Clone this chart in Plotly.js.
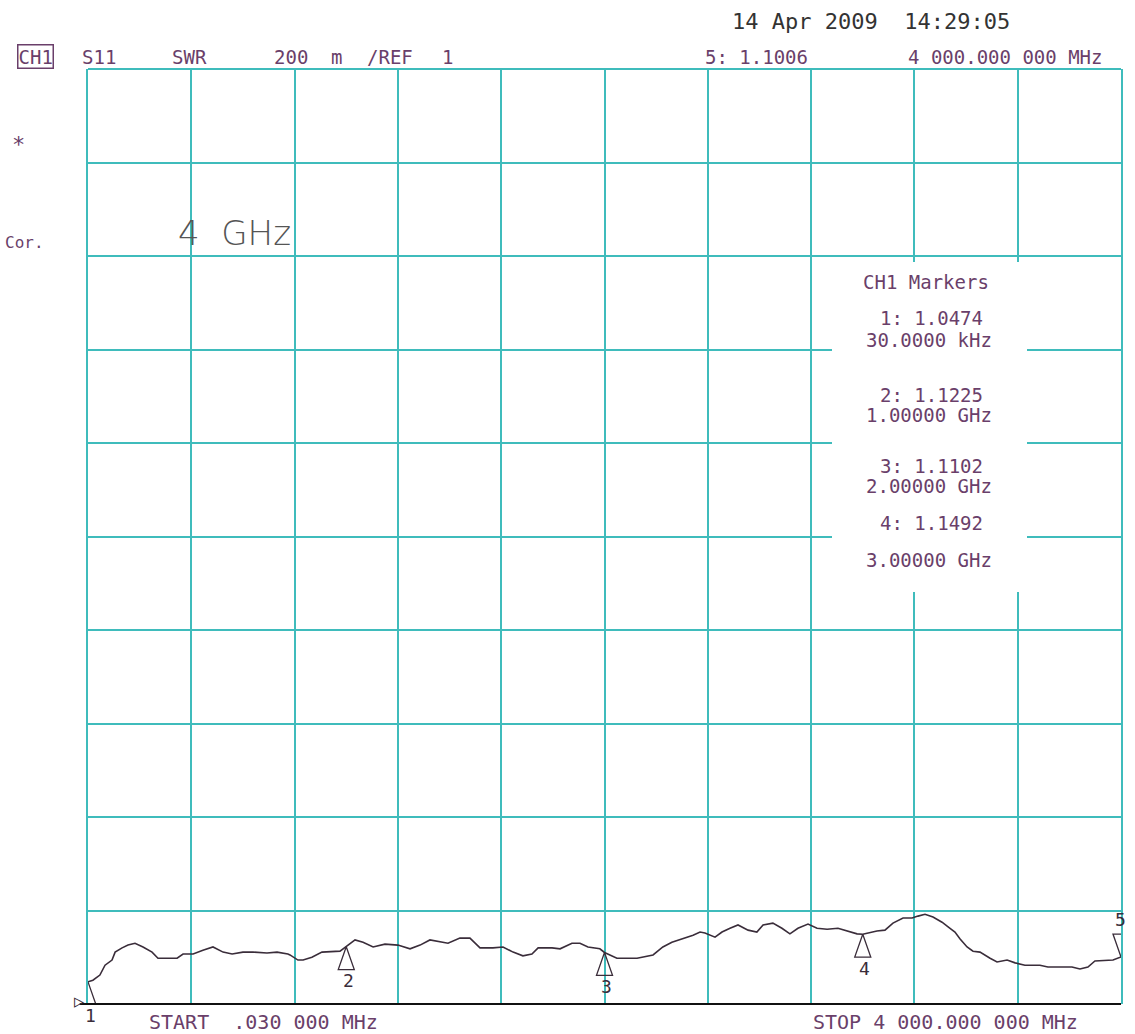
<!DOCTYPE html>
<html>
<head>
<meta charset="utf-8">
<script src="https://cdn.plot.ly/plotly-3.0.1.min.js"></script>
<style>
  html, body { margin: 0; padding: 0; background: #ffffff; }
  #chart { width: 1135px; height: 1034px; }
</style>
</head>
<body>
<div id="chart"></div>
<script>
// ---- data ----
const freqGHz = [0.00003, 0.019, 0.046, 0.066, 0.093, 0.105, 0.132, 0.155, 0.182, 0.213,
  0.248, 0.271, 0.306, 0.345, 0.368, 0.407, 0.445, 0.484, 0.523, 0.558,
  0.600, 0.639, 0.693, 0.732, 0.774, 0.782, 0.813, 0.833, 0.867, 0.906,
  0.976, 1.000, 1.034, 1.065, 1.104, 1.150, 1.200, 1.247, 1.286, 1.324,
  1.394, 1.440, 1.479, 1.518, 1.568, 1.607, 1.646, 1.684, 1.719, 1.743,
  1.797, 1.828, 1.874, 1.905, 1.936, 1.982, 2.000, 2.048, 2.126, 2.188,
  2.226, 2.261, 2.304, 2.343, 2.370, 2.389, 2.428, 2.455, 2.486, 2.517,
  2.556, 2.590, 2.614, 2.652, 2.687, 2.718, 2.749, 2.788, 2.823, 2.862,
  2.904, 2.943, 2.978, 3.000, 3.055, 3.086, 3.117, 3.156, 3.191, 3.214,
  3.241, 3.272, 3.307, 3.338, 3.357, 3.377, 3.404, 3.427, 3.454, 3.493,
  3.520, 3.559, 3.590, 3.628, 3.686, 3.717, 3.810, 3.841, 3.872, 3.899,
  3.969, 4.000];
const swr = [1.0474, 1.051, 1.062, 1.083, 1.094, 1.111, 1.120, 1.126, 1.130, 1.122,
  1.111, 1.098, 1.098, 1.098, 1.107, 1.107, 1.115, 1.122, 1.111, 1.107,
  1.111, 1.111, 1.109, 1.111, 1.107, 1.105, 1.094, 1.094, 1.100, 1.111,
  1.113, 1.1225, 1.137, 1.132, 1.122, 1.128, 1.126, 1.118, 1.126, 1.137,
  1.130, 1.141, 1.141, 1.120, 1.120, 1.122, 1.111, 1.103, 1.107, 1.120,
  1.120, 1.118, 1.130, 1.130, 1.122, 1.118, 1.1102, 1.098, 1.098, 1.105,
  1.122, 1.132, 1.139, 1.147, 1.154, 1.152, 1.143, 1.154, 1.162, 1.169,
  1.158, 1.154, 1.169, 1.173, 1.162, 1.150, 1.162, 1.171, 1.162, 1.160,
  1.162, 1.156, 1.150, 1.1492, 1.156, 1.158, 1.173, 1.184, 1.184, 1.188,
  1.192, 1.186, 1.175, 1.162, 1.154, 1.139, 1.122, 1.113, 1.111, 1.098,
  1.090, 1.094, 1.088, 1.083, 1.083, 1.079, 1.079, 1.075, 1.079, 1.092,
  1.094, 1.1006];

const markerNum = ['1', '2', '3', '4', '5'];
const markerFreq = [0.00003, 1.0, 2.0, 3.0, 4.0];
const markerSwr = [1.0474, 1.1225, 1.1102, 1.1492, 1.1006];
const markerSwrText = ['1.0474', '1.1225', '1.1102', '1.1492', '1.1006'];
const markerFreqText = ['30.0000 kHz', '1.00000 GHz', '2.00000 GHz', '3.00000 GHz', '4 000.000 000 MHz'];

const xRange = [0, 4];      // GHz
const yRange = [1, 3];      // SWR, REF 1, 200 m/div
const xDiv = 0.4, yDiv = 0.2;

// ---- geometry / style ----
const W = 1135, H = 1034;
const M = {l: 88, r: 14, t: 69, b: 30};
const PW = W - M.l - M.r, PH = H - M.t - M.b;
const GRID = '#3fbcbc';
const PURPLE = '#6a3f6a';
const DARK = '#3a2d3a';
const MONO = '"DejaVu Sans Mono", "Liberation Mono", monospace';

function px(pxX, pxY, text, size, color, extra) {
  return Object.assign({
    xref: 'paper', yref: 'paper',
    x: (pxX - M.l) / PW, y: (H - M.b - pxY) / PH,
    xanchor: 'center', yanchor: 'middle',
    text: text, showarrow: false,
    font: {family: MONO, size: size, color: color}
  }, extra || {});
}

// triangle marker outlines built from marker data through the axes
const dxT = 0.031, dyT = 0.049;
const triX = [], triY = [];
markerFreq.forEach((f, i) => {
  const v = markerSwr[i];
  const s = (i === 4) ? 1 : -1;
  triX.push(f, f - dxT, f + dxT, f, null);
  triY.push(v, v + s * dyT, v + s * dyT, v, null);
});

const traces = [
  {
    x: freqGHz, y: swr, type: 'scatter', mode: 'lines',
    line: {color: DARK, width: 1.6}, hoverinfo: 'skip', showlegend: false
  },
  {
    x: triX, y: triY, type: 'scatter', mode: 'lines',
    line: {color: DARK, width: 1.3}, hoverinfo: 'skip', showlegend: false
  }
];

const annotations = [];
// marker number labels
markerFreq.forEach((f, i) => {
  annotations.push({
    x: f, y: markerSwr[i], xref: 'x', yref: 'y',
    text: markerNum[i], showarrow: false,
    xshift: i === 0 ? 2 : (i === 4 ? -1 : 2),
    yshift: i === 4 ? 37 : -34,
    font: {family: MONO, size: 18, color: DARK}
  });
});
// reference position indicator
annotations.push({
  x: xRange[0], y: yRange[0], xref: 'x', yref: 'y', text: '▷',
  showarrow: false, xshift: -9, yshift: 3,
  font: {family: MONO, size: 17, color: DARK}
});

// header
annotations.push(px(871, 22, '14 Apr 2009&nbsp;&nbsp;14:29:05', 22, '#333333'));
annotations.push(px(35, 57, 'CH1', 19, PURPLE, {bordercolor: PURPLE, borderwidth: 1.5, borderpad: 0}));
annotations.push(px(99, 57, 'S11', 19, PURPLE));
annotations.push(px(189, 57, 'SWR', 19, PURPLE));
annotations.push(px(291, 57, '200', 19, PURPLE));
annotations.push(px(336, 57, 'm', 19, PURPLE));
annotations.push(px(390, 57, '/REF', 19, PURPLE));
annotations.push(px(447, 57, '1', 19, PURPLE));
annotations.push(px(756, 57, markerNum[4] + ': ' + markerSwrText[4], 19, PURPLE));
annotations.push(px(1005, 57, markerFreqText[4], 19, PURPLE));

// left side labels
annotations.push(px(18, 144, '*', 22, PURPLE));
annotations.push(px(24, 242, 'Cor.', 16, PURPLE));
annotations.push(px(234, 233, '4&nbsp;&nbsp;GHz', 34, '#555555',
  {font: {family: '"DejaVu Sans", "Liberation Sans", sans-serif', size: 34, color: '#555555', weight: 300}}));

// bottom labels
annotations.push(px(263, 1022, 'START&nbsp;&nbsp;.030 000 MHz', 20, PURPLE));
annotations.push(px(945, 1022, 'STOP 4 000.000 000 MHz', 20, PURPLE));

// marker box
annotations.push(px(926, 282, 'CH1 Markers', 19, PURPLE));
const rowY = [[318, 340], [395, 415], [466, 486], [523, 560]];
for (let i = 0; i < 4; i++) {
  annotations.push(px(931, rowY[i][0], markerNum[i] + ': ' + markerSwrText[i], 19, PURPLE));
  annotations.push(px(929, rowY[i][1], markerFreqText[i], 19, PURPLE));
}

const shapes = [
  // white marker box covering the grid
  {type: 'rect', xref: 'paper', yref: 'paper', layer: 'above',
   x0: (832 - M.l) / PW, x1: (1027 - M.l) / PW,
   y0: (H - M.b - 592) / PH, y1: (H - M.b - 262) / PH,
   fillcolor: '#ffffff', line: {width: 0}},
  // top border
  {type: 'line', xref: 'paper', yref: 'paper', layer: 'below',
   x0: 0, x1: 1, y0: 1, y1: 1, line: {color: GRID, width: 2}},
  // bottom black axis line
  {type: 'line', xref: 'paper', yref: 'paper', layer: 'above',
   x0: -0.008, x1: 1, y0: 0, y1: 0, line: {color: '#111111', width: 2}}
];

const layout = {
  width: W, height: H,
  margin: M,
  paper_bgcolor: '#ffffff', plot_bgcolor: '#ffffff',
  showlegend: false,
  xaxis: {
    range: xRange, dtick: xDiv, tick0: 0, showticklabels: false, ticks: '',
    showgrid: true, gridcolor: GRID, gridwidth: 2, zeroline: false,
    showline: false, fixedrange: true
  },
  yaxis: {
    range: yRange, dtick: yDiv, tick0: 1, showticklabels: false, ticks: '',
    showgrid: true, gridcolor: GRID, gridwidth: 2, zeroline: false,
    showline: true, mirror: true, linecolor: GRID, linewidth: 2, fixedrange: true
  },
  annotations: annotations,
  shapes: shapes
};

Plotly.newPlot('chart', traces, layout, {displayModeBar: false, staticPlot: true});
</script>
</body>
</html>
